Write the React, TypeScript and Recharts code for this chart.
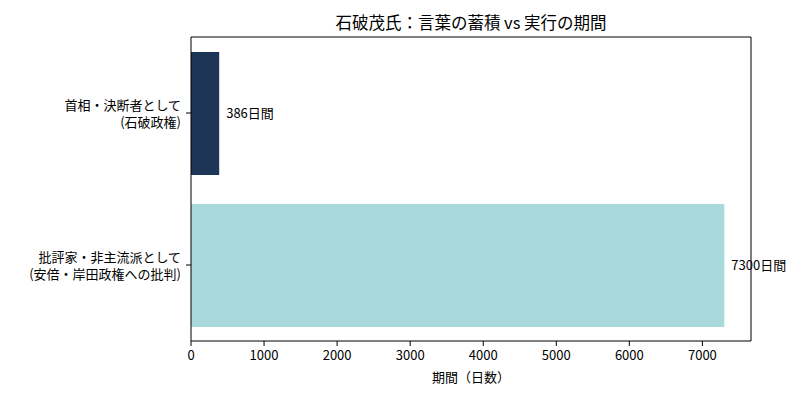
import React from 'react';
import { BarChart, Bar, XAxis, YAxis, Cell, LabelList, ReferenceLine } from 'recharts';

const categories = ['首相・決断者として\n(石破政権)', '批評家・非主流派として\n(安倍・岸田政権への批判)'];
const values = [386, 7300];
const colors = ['#1d3557', '#a8dadc'];
const xTicks = [0, 1000, 2000, 3000, 4000, 5000, 6000, 7000];
const xMax = 7665;
const title = '石破茂氏：言葉の蓄積 vs 実行の期間';
const xLabel = '期間（日数）';

const data = categories.map((name, i) => ({ name, value: values[i] }));

const FONT = '"Noto Sans CJK JP", "Noto Sans", sans-serif';

const YTick = (props: any) => {
  const { x, y, payload } = props;
  const lines = String(payload.value).split('\n');
  return (
    <g>
      {lines.map((l, i) => (
        <text
          key={i}
          x={x}
          y={y + (i - (lines.length - 1) / 2) * 16.5}
          dominantBaseline="central"
          textAnchor="end"
          fontFamily={FONT}
          fontSize={13}
          fill="#000"
        >
          {l}
        </text>
      ))}
    </g>
  );
};

export default function App() {
  return (
    <div style={{ position: 'absolute', left: 0, top: 0, width: 800, height: 400, background: '#fff', fontFamily: FONT }}>
      <div
        style={{
          position: 'absolute',
          left: 191,
          width: 560,
          top: 11,
          textAlign: 'center',
          fontSize: 16.5,
          lineHeight: '22px',
          color: '#000',
          whiteSpace: 'pre',
        }}
      >
        {title}
      </div>
      <BarChart
        width={800}
        height={400}
        data={data}
        layout="vertical"
        margin={{ top: 36, right: 49, bottom: 0, left: 0 }}
        barCategoryGap={0}
      >
        <XAxis
          type="number"
          dataKey="value"
          domain={[0, xMax]}
          ticks={xTicks}
          allowDataOverflow
          height={59}
          tickSize={5}
          tickMargin={5}
          axisLine={{ stroke: '#000' }}
          tickLine={{ stroke: '#000' }}
          tick={{ fill: '#000', fontSize: 13, fontFamily: FONT }}
          label={{ value: xLabel, position: 'insideBottom', offset: 18, fill: '#000', fontSize: 13, fontFamily: FONT }}
        />
        <XAxis
          xAxisId="top"
          orientation="top"
          type="number"
          domain={[0, xMax]}
          height={1}
          tick={false}
          tickLine={false}
          axisLine={{ stroke: '#000' }}
        />
        <YAxis
          type="category"
          dataKey="name"
          width={191}
          tickSize={5}
          tickMargin={5}
          axisLine={{ stroke: '#000' }}
          tickLine={{ stroke: '#000' }}
          tick={<YTick />}
          interval={0}
        />
        <ReferenceLine x={xMax} stroke="#000" ifOverflow="extendDomain" />
        <Bar dataKey="value" barSize={123} isAnimationActive={false}>
          {data.map((d, i) => (
            <Cell key={i} fill={colors[i]} />
          ))}
          <LabelList
            dataKey="value"
            position="right"
            offset={7}
            formatter={(v: any) => `${v}日間`}
            fill="#000"
            fontSize={13}
            fontFamily={FONT}
          />
        </Bar>
      </BarChart>
    </div>
  );
}
